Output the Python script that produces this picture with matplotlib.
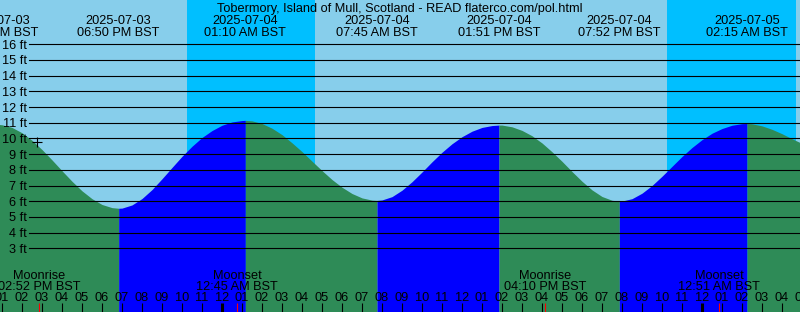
import pandas as pd
import matplotlib
matplotlib.use("Agg")
import matplotlib.pyplot as plt
import matplotlib.dates as mdates
import matplotlib.transforms as mtransforms

plt.rcParams['font.family'] = ['Liberation Sans', 'DejaVu Sans']
FS = 9.2

# DATA
title = "Tobermory, Island of Mull, Scotland - READ flaterco.com/pol.html"
view_start = pd.Timestamp("2025-07-03 12:54")
view_end = pd.Timestamp("2025-07-05 04:54")

# high / low tides (ft)
ext_times = pd.to_datetime(["2025-07-03 12:45", "2025-07-03 18:50", "2025-07-04 01:10",
                            "2025-07-04 07:45", "2025-07-04 13:51", "2025-07-04 19:52",
                            "2025-07-05 02:15"])
ext_heights = [10.9, 5.55, 11.15, 6.05, 10.85, 6.0, 10.95]

# half-hourly tide heights, 2025-07-03 13:00 .. 2025-07-05 05:00 (ft)
curve_times = pd.date_range("2025-07-03 13:00", "2025-07-05 05:00", freq="30min")
curve_heights = [10.87, 10.70, 10.36, 9.88, 9.29, 8.63, 7.94, 7.27, 6.66, 6.16,
                 5.79, 5.59, 5.56, 5.76, 6.17, 6.74, 7.43, 8.15, 8.86, 9.50,
                 10.06, 10.50, 10.84, 11.05, 11.14, 11.12, 10.95, 10.65, 10.24, 9.72,
                 9.16, 8.55, 7.95, 7.38, 6.89, 6.49, 6.21, 6.07, 6.08, 6.29,
                 6.70, 7.24, 7.86, 8.51, 9.12, 9.66, 10.11, 10.46, 10.70, 10.82,
                 10.85, 10.74, 10.51, 10.17, 9.71, 9.15, 8.54, 7.89, 7.27, 6.72,
                 6.30, 6.06, 6.01, 6.16, 6.51, 7.00, 7.59, 8.22, 8.85, 9.42,
                 9.92, 10.33, 10.63, 10.84, 10.94, 10.93, 10.80, 10.58, 10.30, 9.98,
                 9.68]

hour_times = pd.date_range("2025-07-03 13:00", "2025-07-05 05:00", freq="h")

sunsets = pd.to_datetime(["2025-07-03 22:15", "2025-07-04 22:15"])
sunrises = pd.to_datetime(["2025-07-04 04:39", "2025-07-05 04:41"])

moon_events = ["Moonrise", "Moonset", "Moonrise", "Moonset"]
moon_times = pd.to_datetime(["2025-07-03 14:52", "2025-07-04 00:45",
                             "2025-07-04 16:10", "2025-07-05 00:51"])

now_time = pd.Timestamp("2025-07-03 14:45")
now_height = 9.8

ft_levels = list(range(3, 17))

# colours
DAY = '#87CEEB'
NIGHT = '#00BFFF'
FLOOD = '#0000FF'
EBB = '#2E8B57'

# FIGURE
fig = plt.figure(figsize=(8, 3.12), dpi=100)
ax = fig.add_axes([0, 0, 1, 1])
ax.set_axis_off()
ax.set_xlim(mdates.date2num(view_start), mdates.date2num(view_end))
ax.set_ylim(-1.06, 18.82)

ax.axvspan(mdates.date2num(view_start), mdates.date2num(view_end), color=DAY, lw=0)
for s, r in zip(sunsets, sunrises):
    ax.axvspan(mdates.date2num(s), mdates.date2num(r), color=NIGHT, lw=0)

# tide curve, coloured by flood / ebb
tide = pd.DataFrame({'t': list(curve_times) + list(ext_times),
                     'h': list(curve_heights) + ext_heights}).sort_values('t')
tx = mdates.date2num(tide['t'])
th = tide['h'].values
bounds = list(ext_times) + [pd.Timestamp("2025-07-06")]
for i in range(len(bounds) - 1):
    a = mdates.date2num(bounds[i])
    b = mdates.date2num(bounds[i + 1])
    m = (tx >= a) & (tx <= b)
    if i + 1 < len(ext_heights):
        col = FLOOD if ext_heights[i + 1] > ext_heights[i] else EBB
    else:
        col = EBB
    ax.fill_between(tx[m], -2, th[m], color=col, lw=0)

# height lines + labels
ylab_tr = mtransforms.offset_copy(ax.get_yaxis_transform(), fig, y=-4.5, units='dots')
for lv in ft_levels:
    ax.axhline(lv, xmin=29 / 800, xmax=1, color='black', lw=0.8)
    ax.text(27 / 800, lv, f"{lv} ft", transform=ylab_tr, ha='right', va='baseline', fontsize=FS)

ax.plot(mdates.date2num(now_time), now_height, marker='+', color='black', ms=7, mew=0.8)

# top labels
xtr = ax.get_xaxis_transform()
ax.text(0.5, 1 - 12.3 / 312, title, transform=ax.transAxes, ha='center', va='baseline', fontsize=FS)
for t in ext_times:
    x = mdates.date2num(t)
    ax.text(x, 1 - 24 / 312, t.strftime("%Y-%m-%d"), transform=xtr, ha='center', va='baseline', fontsize=FS)
    ax.text(x, 1 - 36 / 312, t.strftime("%I:%M %p BST"), transform=xtr, ha='center', va='baseline', fontsize=FS)

# moon events
for name, t in zip(moon_events, moon_times):
    x = mdates.date2num(t)
    ax.text(x, 1 - 279 / 312, name, transform=xtr, ha='center', va='baseline', fontsize=FS)
    ax.text(x, 1 - 290 / 312, t.strftime("%I:%M %p BST"), transform=xtr, ha='center', va='baseline', fontsize=FS)

# hour ticks
for t in hour_times:
    x = mdates.date2num(t)
    ax.text(x, 1 - 301 / 312, t.strftime("%I"), transform=xtr, ha='center', va='baseline', fontsize=FS)
    lw = 2.2 if t.hour == 0 else 0.8
    ax.plot([x, x], [0, 9 / 312], transform=xtr, color='black', lw=lw, solid_capstyle='butt')
for t in moon_times:
    x = mdates.date2num(t)
    ax.plot([x, x], [0, 9 / 312], transform=xtr, color='red', lw=0.8, solid_capstyle='butt')

fig.savefig("out.png", dpi=100)
